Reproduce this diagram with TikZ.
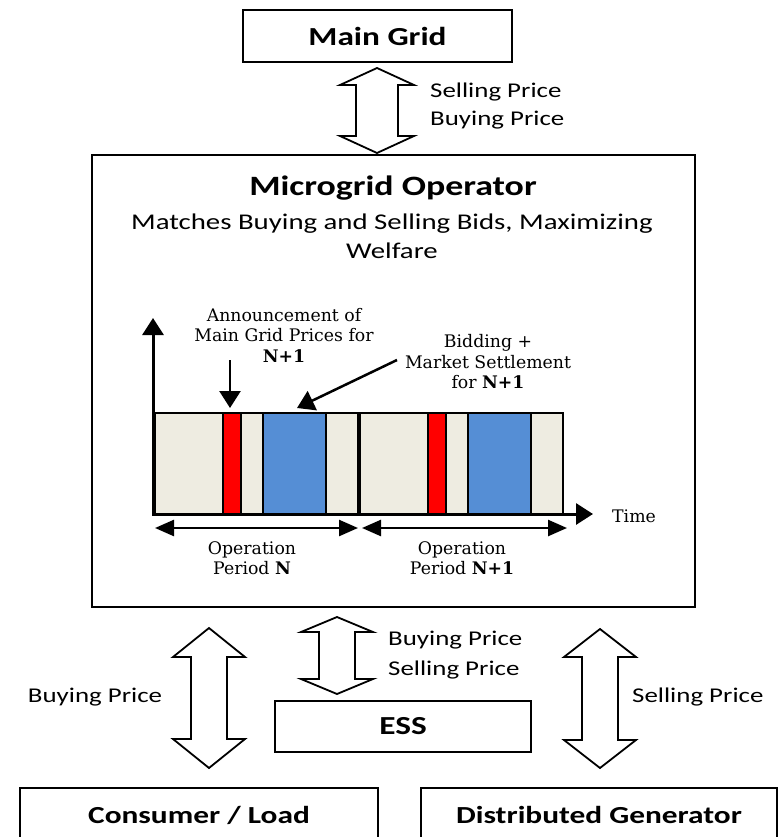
\documentclass[tikz,border=0pt]{standalone}
\usepackage{fontspec}
\usetikzlibrary{arrows.meta}
\newfontfamily\calfont[FakeStretch=1.28]{Carlito}
\newfontfamily\serfont{DejaVu Serif}
\definecolor{beige}{HTML}{EEECE1}
\definecolor{barred}{HTML}{FF0000}
\definecolor{barblue}{HTML}{558ED5}
% centre x, top y, bottom y, head length, half shaft, half head
\newcommand\dblarrow[6]{%
  \draw[blockarrow] (#1,#2) -- (#1+#6,#2+#4) -- (#1+#5,#2+#4) -- (#1+#5,#3-#4)
    -- (#1+#6,#3-#4) -- (#1,#3) -- (#1-#6,#3-#4) -- (#1-#5,#3-#4)
    -- (#1-#5,#2+#4) -- (#1-#6,#2+#4) -- cycle;}
\begin{document}
\begin{tikzpicture}[x=1pt,y=-1pt,
  box/.style={draw, line width=1.8pt, fill=white, inner sep=0pt},
  titletext/.style={font=\calfont\bfseries\fontsize{26}{30}\selectfont},
  bottomtitle/.style={font=\calfont\bfseries\fontsize{24.5}{30}\selectfont},
  bigtitle/.style={font=\calfont\bfseries\fontsize{28}{32}\selectfont},
  lbl/.style={font=\calfont\fontsize{21}{29}\selectfont, inner sep=0pt},
  desc/.style={font=\calfont\fontsize{22.5}{29}\selectfont, inner sep=0pt},
  sertext/.style={font=\serfont\fontsize{17.3}{20.5}\selectfont, inner sep=0pt, align=center},
  blockarrow/.style={draw, line width=1.8pt, fill=white, line join=miter},
  periodbox/.style={draw, line width=2.8pt, fill=beige},
  axisline/.style={line width=3pt, -{Triangle[length=17pt,width=21pt]}},
  spanarrow/.style={line width=2.5pt, {Triangle[length=19pt,width=16pt]}-{Triangle[length=19pt,width=16pt]}},
  pointer/.style={line width=2.5pt, -{Triangle[length=17pt,width=21pt]}}
]
\clip (0,0) rectangle (779,837);
\fill[white] (0,0) rectangle (779,837);

% boxes
\node[box, titletext, minimum width=269pt, minimum height=52pt] (main) at (377.5,36) {Main Grid};
\node[box, minimum width=603pt, minimum height=452pt] (mgo) at (393.5,381) {};
\node[box, titletext, minimum width=256pt, minimum height=51pt] (ess) at (403,726.5) {ESS};
\node[box, bottomtitle, minimum width=358pt, minimum height=54pt] (load) at (199,815) {Consumer / Load};
\node[box, bottomtitle, minimum width=356pt, minimum height=54pt] (dg) at (599,815) {Distributed Generator};

% microgrid operator texts
\node[bigtitle, inner sep=0pt] (mgotitle) at (393,188) {Microgrid Operator};
\node[desc, align=center] (mgodesc) at (392,236) {Matches Buying and Selling Bids, Maximizing\\Welfare};

% block double arrows
\dblarrow{377}{68}{153}{17}{21}{37}
\dblarrow{209}{628}{768}{29}{18}{36}
\dblarrow{337}{617}{694}{15}{18}{36}
\dblarrow{600}{629}{768}{28}{18}{36}

% arrow labels
\node[lbl, anchor=west] (l1) at (430,92) {Selling Price};
\node[lbl, anchor=west] (l2) at (430,120) {Buying Price};
\node[lbl, anchor=west] (l3) at (388,640) {Buying Price};
\node[lbl, anchor=west] (l4) at (388,670) {Selling Price};
\node[lbl] (l5) at (95,697) {Buying Price};
\node[lbl, anchor=west] (l6) at (632,697) {Selling Price};

% timeline
\draw[periodbox] (155,413) rectangle (358,514);
\draw[periodbox] (360,413) rectangle (563,514);
\draw[line width=2pt, fill=barred] (223,413) rectangle (241,514);
\draw[line width=2pt, fill=barblue] (263,413) rectangle (326,514);
\draw[line width=2pt, fill=barred] (428,413) rectangle (446,514);
\draw[line width=2pt, fill=barblue] (468,413) rectangle (531,514);

\coordinate (origin) at (153,515);
\coordinate (ytip) at (153,318);
\coordinate (xstart) at (152,514);
\coordinate (xtip) at (593,514);
\draw[axisline] (origin) -- (ytip);
\draw[axisline] (xstart) -- (xtip);
\node[sertext, anchor=west] (time) at (612,516) {Time};

\coordinate (p1a) at (155,528);
\coordinate (p1b) at (358,528);
\coordinate (p2a) at (362,528);
\coordinate (p2b) at (567,528);
\draw[spanarrow] (p1a) -- (p1b);
\draw[spanarrow] (p2a) -- (p2b);
\node[sertext] (opN) at (252,558) {Operation\\Period \textbf{N}};
\node[sertext] (opN1) at (462,558) {Operation\\Period \textbf{N+1}};

\node[sertext] (ann) at (284,335) {Announcement of\\Main Grid Prices for\\\textbf{N+1}};
\node[sertext] (bid) at (488,362) {Bidding +\\Market Settlement\\for \textbf{N+1}};
\coordinate (annfrom) at (230,360);
\coordinate (annto) at (230,408);
\coordinate (bidfrom) at (397,360);
\coordinate (bidto) at (297,408);
\draw[pointer] (annfrom) -- (annto);
\draw[pointer] (bidfrom) -- (bidto);
\end{tikzpicture}
\end{document}
